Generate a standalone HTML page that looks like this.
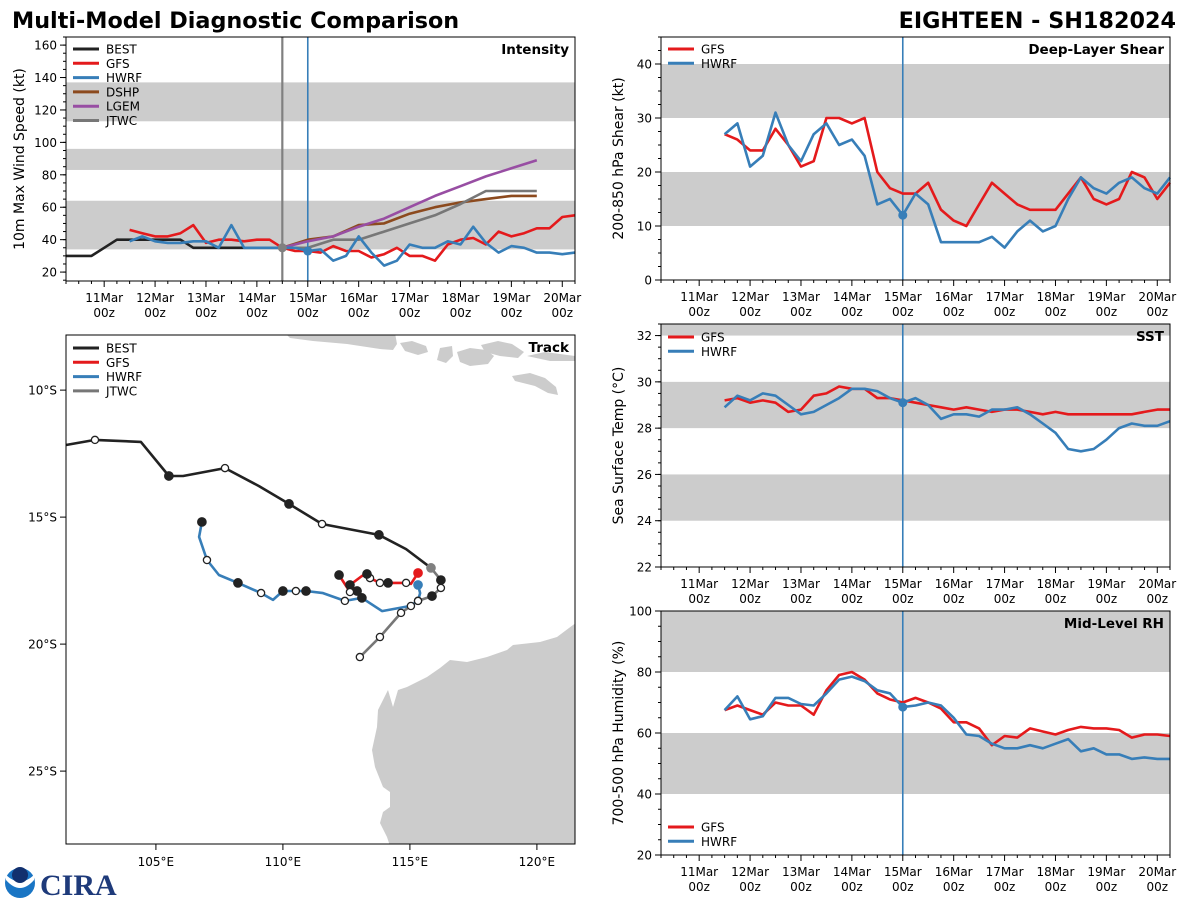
<!DOCTYPE html>
<html><head><meta charset="utf-8"><style>
body{margin:0;background:#fff;}
svg{display:block;font-family:"DejaVu Sans","Liberation Sans",sans-serif;}
</style></head><body>
<svg id="c" width="1200" height="900" viewBox="0 0 1200 900" xmlns="http://www.w3.org/2000/svg">
<text x="12" y="28" font-size="22.3" font-weight="bold" fill="#000">Multi-Model Diagnostic Comparison</text>
<text x="1176" y="28" font-size="22.3" font-weight="bold" fill="#000" text-anchor="end">EIGHTEEN - SH182024</text>
<g>
<circle cx="20" cy="883" r="15" fill="#1a75c4"/>
<path d="M6,880 Q20,896 34,880 L34,875 Q20,888 6,875Z" fill="#fff"/>
<circle cx="20" cy="875" r="8" fill="#12306e"/>
<text x="40" y="895" font-size="30" font-weight="bold" font-family="Liberation Serif,serif" fill="#1e3a7a">CIRA</text>
</g>
<g id="root"></g>
</svg>
<script>
// ---------- DATA ----------
const intensityBandsLo = [34, 83, 113];
const intensityBandsHi = [64, 96, 137];
const bestDays = [10.25,10.5,10.75,11,11.25,11.5,11.75,12,12.25,12.5,12.75,13,13.25,13.5,13.75,14,14.25,14.5];
const bestVmax = [30,30,30,35,40,40,40,40,40,40,35,35,35,35,35,35,35,35];
const gfsVmax = [46,44,42,42,44,49,38,40,40,39,40,40,35,33,33,32,36,33,33,29,31,35,30,30,27,37,40,41,37,45,42,44,47,47,54,55];
const hwrfVmax = [39,42,39,38,38,39,39,35,49,35,35,35,35,35,33,34,27,30,42,32,24,27,37,35,35,39,37,48,38,32,36,35,32,32,31,32];
const statDays = [14.5,15,15.5,16,16.5,17,17.5,18,18.5,19,19.5];
const dshpVmax = [35,40,42,49,50,56,60,63,65,67,67];
const lgemVmax = [35,39,42,48,53,60,67,73,79,84,89];
const jtwcVmax = [35,35,40,40,45,50,55,62,70,70,70];
const shearBandsLo = [10,30];
const shearBandsHi = [20,40];
const gfsShear = [27,26,24,24,28,25,21,22,30,30,29,30,20,17,16,16,18,13,11,10,14,18,16,14,13,13,13,16,19,15,14,15,20,19,15,18];
const hwrfShear = [27,29,21,23,31,25,22,27,29,25,26,23,14,15,12,16,14,7,7,7,7,8,6,9,11,9,10,15,19,17,16,18,19,17,16,19];
const sstBandsLo = [24,28,32];
const sstBandsHi = [26,30,34];
const gfsSst = [29.2,29.3,29.1,29.2,29.1,28.7,28.8,29.4,29.5,29.8,29.7,29.7,29.3,29.3,29.2,29.1,29.0,28.9,28.8,28.9,28.8,28.7,28.8,28.8,28.7,28.6,28.7,28.6,28.6,28.6,28.6,28.6,28.6,28.7,28.8,28.8];
const hwrfSst = [28.9,29.4,29.2,29.5,29.4,29.0,28.6,28.7,29.0,29.3,29.7,29.7,29.6,29.3,29.1,29.3,29.0,28.4,28.6,28.6,28.5,28.8,28.8,28.9,28.6,28.2,27.8,27.1,27.0,27.1,27.5,28.0,28.2,28.1,28.1,28.3];
const rhBandsLo = [40,80];
const rhBandsHi = [60,100];
const gfsRh = [67.5,69,67.5,66,70,69,69,66,74,79,80,77.5,73,71,70,71.5,70,68,63.5,63.5,61.5,56,59,58.5,61.5,60.5,59.5,61,62,61.5,61.5,61,58.5,59.5,59.5,59];
const hwrfRh = [67.5,72,64.5,65.5,71.5,71.5,69.5,69,73,77.5,78.5,77,74,73,68.5,69,70,69,65,59.5,59,56.5,55,55,56,55,56.5,58,54,55,53,53,51.5,52,51.5,51.5];
const modelStartDay = 11.5;
const modelStepDay = 0.25;
const dayTickLabels = ["11Mar","12Mar","13Mar","14Mar","15Mar","16Mar","17Mar","18Mar","19Mar","20Mar"];
const dayTicks = [11,12,13,14,15,16,17,18,19,20];
const bestLon = [101.46,102.60,104.41,105.51,106.07,107.72,109.06,110.24,111.54,113.78,114.85,115.83];
const bestLat = [-12.16,-11.96,-12.04,-13.38,-13.38,-13.07,-13.78,-14.48,-15.27,-15.70,-16.26,-17.0];
const bestMk = ["","o","","f","","o","","f","o","f","",""];
const jtwcLon = [115.83,116.22,116.22,115.87,115.32,115.04,114.65,113.82,113.03];
const jtwcLat = [-17.0,-17.48,-17.79,-18.11,-18.30,-18.50,-18.77,-19.72,-20.51];
const jtwcMk = ["g","f","o","f","o","o","o","o","o"];
const hwrfLon = [115.32,115.40,115.32,115.00,113.90,113.11,112.44,111.58,110.91,110.51,110.0,109.61,109.14,108.23,107.48,107.01,106.70,106.81];
const hwrfLat = [-17.67,-17.99,-18.30,-18.50,-18.70,-18.18,-18.30,-17.99,-17.91,-17.91,-17.91,-18.26,-17.99,-17.59,-17.28,-16.69,-15.78,-15.19];
const hwrfMk = ["b","","o","","","f","o","","f","o","f","","o","f","","o","","f"];
const gfsLon = [115.32,115.04,114.85,114.14,113.82,113.43,113.31,113.11,112.64,112.92,112.64,112.21];
const gfsLat = [-17.2,-17.63,-17.59,-17.59,-17.59,-17.40,-17.24,-17.32,-17.67,-17.91,-17.95,-17.28];
const gfsMk = ["r","","o","f","o","o","f","","f","f","o","f"];
const lonTicks = [105,110,115,120];
const latTicks = [-10,-15,-20,-25];

// ---------- HELPERS ----------
const NS = "http://www.w3.org/2000/svg";
const root = document.getElementById('root');
function mk(tag, attrs, parent){
  const e = document.createElementNS(NS, tag);
  for (const k in attrs) e.setAttribute(k, attrs[k]);
  (parent||root).appendChild(e);
  return e;
}
const COL = {BEST:"#222222",GFS:"#e41a1c",HWRF:"#377eb8",DSHP:"#8c4a1e",LGEM:"#984ea3",JTWC:"#777777"};

function makeAxes(x0,y0,w,h,xmin,xmax,ymin,ymax){
  return {
    x: d => x0 + (d - xmin)/(xmax - xmin)*w,
    y: v => y0 + h - (v - ymin)/(ymax - ymin)*h,
    x0, y0, w, h, ymin, ymax, xmin, xmax
  };
}
function bands(ax, lo, hi, name){
  for (let i=0;i<lo.length;i++){
    const a = Math.max(lo[i], ax.ymin), b = Math.min(hi[i], ax.ymax);
    if (b<=a) continue;
    const r = mk('rect',{x:ax.x0,y:ax.y(b),width:ax.w,height:ax.y(a)-ax.y(b),fill:"#cccccc"});
    
    
  }
}
function frame(ax, name){
  const r = mk('rect',{x:ax.x0,y:ax.y0,width:ax.w,height:ax.h,fill:"none",stroke:"#000","stroke-width":1});
  
  
}
function timeXAxis(ax, name){
  const g = mk('g',{});
  
  
  const yb = ax.y0 + ax.h;
  for (let d = ax.xmin; d <= ax.xmax+1e-6; d += 0.25){
    const isMaj = Math.abs(d - Math.round(d)) < 1e-6;
    mk('line',{x1:ax.x(d),x2:ax.x(d),y1:yb,y2:yb+(isMaj?6:3),stroke:"#000","stroke-width":1},g);
  }
  dayTicks.forEach((d,i)=>{
    const t = mk('text',{x:ax.x(d),y:yb+21,"font-size":12,"text-anchor":"middle"},g);
    t.textContent = dayTickLabels[i];
    const t2 = mk('text',{x:ax.x(d),y:yb+36,"font-size":12,"text-anchor":"middle"},g);
    t2.textContent = "00z";
  });
}
function yAxis(ax, ticks, minorStep, name, label, labelX){
  const g = mk('g',{});
  
  
  for (let v = Math.ceil(ax.ymin/minorStep)*minorStep; v <= ax.ymax+1e-6; v += minorStep){
    mk('line',{x1:ax.x0-3,x2:ax.x0,y1:ax.y(v),y2:ax.y(v),stroke:"#000","stroke-width":1},g);
  }
  ticks.forEach(v=>{
    mk('line',{x1:ax.x0-6,x2:ax.x0,y1:ax.y(v),y2:ax.y(v),stroke:"#000","stroke-width":1},g);
    const t = mk('text',{x:ax.x0-9,y:ax.y(v)+4.5,"font-size":12,"text-anchor":"end"},g);
    t.textContent = v;
  });
  const cy = ax.y0 + ax.h/2;
  const t = mk('text',{x:labelX,y:cy,"font-size":14,"text-anchor":"middle",transform:`rotate(-90 ${labelX} ${cy})`});
  t.textContent = label;
  
  
}
function series(ax, days, vals, color, name){
  const pts = vals.map((v,i)=> ax.x(days[i]).toFixed(1)+','+ax.y(v).toFixed(1)).join(' ');
  const p = mk('polyline',{points:pts,fill:"none",stroke:color,"stroke-width":2.6,"stroke-linejoin":"round"});
  
  
}
function modelDays(n){ const a=[]; for(let i=0;i<n;i++) a.push(modelStartDay + modelStepDay*i); return a; }
function idxAt(d){ return Math.round((d - modelStartDay)/modelStepDay); }
function vline(ax, d, color, w){
  mk('line',{x1:ax.x(d),x2:ax.x(d),y1:ax.y0,y2:ax.y0+ax.h,stroke:color,"stroke-width":w});
}
function dot(cx, cy, color, r){
  mk('circle',{cx:cx,cy:cy,r:r||4.5,fill:color});
}
function legend(x, y, names, panel){
  names.forEach((n,i)=>{
    const g = mk('g',{});
    
    
    mk('line',{x1:x,x2:x+26,y1:y+i*14.3,y2:y+i*14.3,stroke:COL[n],"stroke-width":3},g);
    const t = mk('text',{x:x+33,y:y+i*14.3+4.5,"font-size":12},g);
    t.textContent = n;
  });
}
function panelTitle(ax, txt, name){
  const t = mk('text',{x:ax.x0+ax.w-6,y:ax.y0+17,"font-size":13.5,"font-weight":"bold","text-anchor":"end"});
  t.textContent = txt;
  
  
}

// ---------- INTENSITY ----------
(function(){
  const ax = makeAxes(66,37,509,244,10.25,20.25,14.5,165);
  bands(ax, intensityBandsLo, intensityBandsHi, 'intensity');
  vline(ax, 14.5, "#808080", 2.2);
  vline(ax, 15, "#377eb8", 1.6);
  series(ax, bestDays, bestVmax, COL.BEST, 'best-intensity-line');
  series(ax, statDays, dshpVmax, COL.DSHP, 'dshp-intensity-line');
  series(ax, statDays, lgemVmax, COL.LGEM, 'lgem-intensity-line');
  series(ax, statDays, jtwcVmax, COL.JTWC, 'jtwc-intensity-line');
  series(ax, modelDays(gfsVmax.length), gfsVmax, COL.GFS, 'gfs-intensity-line');
  series(ax, modelDays(hwrfVmax.length), hwrfVmax, COL.HWRF, 'hwrf-intensity-line');
  dot(ax.x(14.5), ax.y(bestVmax[bestVmax.length-1]), "#808080");
  dot(ax.x(15), ax.y(hwrfVmax[idxAt(15)]), COL.HWRF);
  frame(ax,'intensity');
  timeXAxis(ax,'intensity');
  yAxis(ax,[20,40,60,80,100,120,140,160],5,'intensity','10m Max Wind Speed (kt)',24);
  legend(73,49,["BEST","GFS","HWRF","DSHP","LGEM","JTWC"],'intensity');
  panelTitle(ax,'Intensity','intensity');
})();

// ---------- SHEAR ----------
(function(){
  const ax = makeAxes(661,37,509,243,10.25,20.25,0,45);
  bands(ax, shearBandsLo, shearBandsHi, 'shear');
  vline(ax, 15, "#377eb8", 1.6);
  series(ax, modelDays(gfsShear.length), gfsShear, COL.GFS, 'gfs-shear-line');
  series(ax, modelDays(hwrfShear.length), hwrfShear, COL.HWRF, 'hwrf-shear-line');
  dot(ax.x(15), ax.y(hwrfShear[idxAt(15)]), COL.HWRF);
  frame(ax,'shear');
  timeXAxis(ax,'shear');
  yAxis(ax,[0,10,20,30,40],2.5,'shear','200-850 hPa Shear (kt)',623);
  legend(668,49,["GFS","HWRF"],'shear');
  panelTitle(ax,'Deep-Layer Shear','shear');
})();

// ---------- SST ----------
(function(){
  const ax = makeAxes(661,324,509,243,10.25,20.25,22,32.5);
  bands(ax, sstBandsLo, sstBandsHi, 'sst');
  vline(ax, 15, "#377eb8", 1.6);
  series(ax, modelDays(gfsSst.length), gfsSst, COL.GFS, 'gfs-sst-line');
  series(ax, modelDays(hwrfSst.length), hwrfSst, COL.HWRF, 'hwrf-sst-line');
  dot(ax.x(15), ax.y(hwrfSst[idxAt(15)]), COL.HWRF);
  frame(ax,'sst');
  timeXAxis(ax,'sst');
  yAxis(ax,[22,24,26,28,30,32],0.5,'sst','Sea Surface Temp (°C)',623);
  legend(668,337,["GFS","HWRF"],'sst');
  panelTitle(ax,'SST','sst');
})();

// ---------- RH ----------
(function(){
  const ax = makeAxes(661,611,509,244,10.25,20.25,20,100);
  bands(ax, rhBandsLo, rhBandsHi, 'rh');
  vline(ax, 15, "#377eb8", 1.6);
  series(ax, modelDays(gfsRh.length), gfsRh, COL.GFS, 'gfs-rh-line');
  series(ax, modelDays(hwrfRh.length), hwrfRh, COL.HWRF, 'hwrf-rh-line');
  dot(ax.x(15), ax.y(hwrfRh[idxAt(15)]), COL.HWRF);
  frame(ax,'rh');
  timeXAxis(ax,'rh');
  yAxis(ax,[20,40,60,80,100],5,'rh','700-500 hPa Humidity (%)',623);
  legend(668,827,["GFS","HWRF"],'rh');
  panelTitle(ax,'Mid-Level RH','rh');
})();

// ---------- TRACK ----------
(function(){
  const ax = makeAxes(66,335,509,509,101.46,121.5,-27.87,-7.83);
  const clip = mk('clipPath',{id:'tclip'});
  mk('rect',{x:66,y:335,width:509,height:509},clip);
  const land = mk('g',{"clip-path":"url(#tclip)",fill:"#cccccc"});
  
  
  mk('polygon',{points:"578,622 573,625 557,637 540,642 513,645 507,650 487,657 467,662 450,660 440,668 427,677 407,687 398,690 393,707 388,690 383,700 378,710 377,727 372,750 375,767 383,787 390,792 390,807 383,812 380,823 387,837 390,846 578,846"},land);
  mk('polygon',{points:"285,333 395,333 397,344 393,350 380,349 347,344 313,341 290,338"},land);
  mk('polygon',{points:"400,343 412,341 426,346 428,352 418,355 405,351"},land);
  mk('polygon',{points:"440,348 452,346 453,356 446,363 437,360"},land);
  mk('polygon',{points:"457,352 470,348 486,350 494,356 488,364 470,366 460,362"},land);
  mk('polygon',{points:"481,345 498,341 512,344 524,352 518,358 500,356 485,352"},land);
  mk('polygon',{points:"527,356 545,352 560,354 575,356 575,361 550,361"},land);
  mk('polygon',{points:"512,376 530,373 545,378 556,387 558,395 548,393 535,386 515,381"},land);
  function track(lon, lat, marks, color, name){
    const pts = lon.map((v,i)=> ax.x(v).toFixed(1)+','+ax.y(lat[i]).toFixed(1)).join(' ');
    const p = mk('polyline',{points:pts,fill:"none",stroke:color,"stroke-width":2.6,"stroke-linejoin":"round"});
    
    
  }
  function marks(lon, lat, m){
    m.forEach((k,i)=>{
      if(!k) return;
      const cx = ax.x(lon[i]), cy = ax.y(lat[i]);
      let fill = "#222", stroke="#222";
      if(k==='o'){fill="#fff";}
      if(k==='g'){fill="#808080";stroke="#808080";}
      if(k==='b'){fill=COL.HWRF;stroke=COL.HWRF;}
      if(k==='r'){fill=COL.GFS;stroke=COL.GFS;}
      mk('circle',{cx:cx,cy:cy,r:k==='o'?3.6:4.2,fill:fill,stroke:stroke,"stroke-width":1.3});
    });
  }
  track(bestLon,bestLat,bestMk,COL.BEST,'best-track-line');
  track(jtwcLon,jtwcLat,jtwcMk,COL.JTWC,'jtwc-track-line');
  track(hwrfLon,hwrfLat,hwrfMk,COL.HWRF,'hwrf-track-line');
  track(gfsLon,gfsLat,gfsMk,COL.GFS,'gfs-track-line');
  marks(bestLon,bestLat,bestMk);
  marks(hwrfLon,hwrfLat,hwrfMk);
  marks(gfsLon,gfsLat,gfsMk);
  marks(jtwcLon,jtwcLat,jtwcMk);
  frame(ax,'track');
  const g = mk('g',{});
  
  
  lonTicks.forEach(v=>{
    mk('line',{x1:ax.x(v),x2:ax.x(v),y1:844,y2:850,stroke:"#000"},g);
    const t = mk('text',{x:ax.x(v),y:866,"font-size":12,"text-anchor":"middle"},g);
    t.textContent = v+'°E';
  });
  latTicks.forEach(v=>{
    mk('line',{x1:60,x2:66,y1:ax.y(v),y2:ax.y(v),stroke:"#000"},g);
    const t = mk('text',{x:57,y:ax.y(v)+4.5,"font-size":12,"text-anchor":"end"},g);
    t.textContent = (-v)+'°S';
  });
  legend(73,348,["BEST","GFS","HWRF","JTWC"],'track');
  panelTitle(ax,'Track','track');
})();
</script>
</body></html>
